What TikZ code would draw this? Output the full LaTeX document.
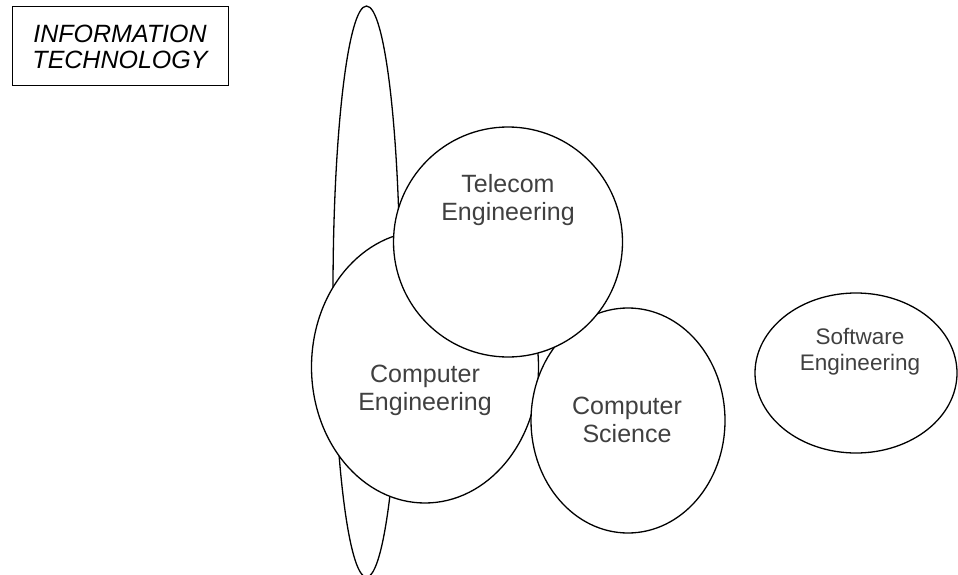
\documentclass[tikz,border=0pt]{standalone}
\usepackage{fontspec}
\setmainfont{Liberation Sans}
\usetikzlibrary{shapes.geometric}
\begin{document}
\begin{tikzpicture}[x=1pt, y=-1pt,
    ring/.style={ellipse, draw=black, fill=white, line width=1.3pt, inner sep=0pt},
    lbl/.style={align=center, inner sep=0pt, text=black!75, font=\fontsize{25}{28}\selectfont}]
    \useasboundingbox (0,0) rectangle (958,575);
    % field outline, then the overlapping disciplines
    \node[ring, minimum width=67, minimum height=571] (itstem) at (366.5,291.5) {};
    \node[ring, minimum width=227, minimum height=272] (compeng) at (425,367) {};
    \node[ring, minimum width=194, minimum height=225] (compsci) at (628,420.5) {};
    \node[ring, minimum width=229, minimum height=230] (telecom) at (508,242) {};
    \node[ring, minimum width=202, minimum height=160] (softeng) at (856,373) {};
    \node[lbl] (telecomlbl) at (508,200) {Telecom\\Engineering};
    \node[lbl] (compenglbl) at (425,390.5) {Computer\\Engineering};
    \node[lbl] (compscilbl) at (627,419.5) {Computer\\Science};
    \node[lbl, font=\fontsize{22.5}{26}\selectfont] (softenglbl) at (860,352) {Software\\Engineering};
    % title box
    \node[draw=black, line width=1pt, minimum width=216, minimum height=79, inner sep=0pt,
          align=center, font=\itshape\fontsize{25}{26}\selectfont] (info) at (120,46.5) {INFORMATION\\TECHNOLOGY};
\end{tikzpicture}
\end{document}
